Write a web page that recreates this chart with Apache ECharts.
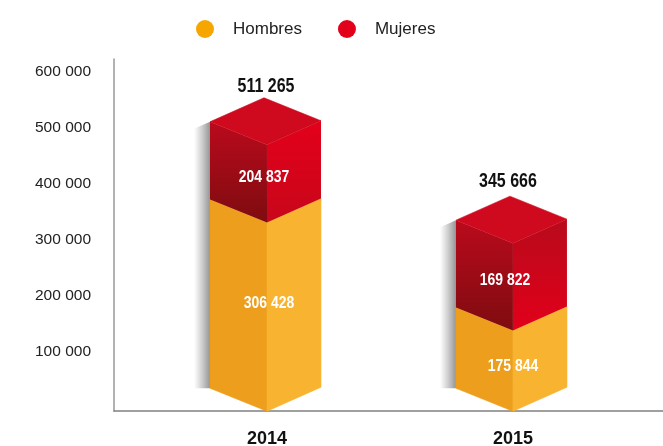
<!DOCTYPE html>
<html>
<head>
<meta charset="utf-8">
<style>
  html, body { margin: 0; padding: 0; background: #fff; }
  #chart { width: 663px; height: 446px; }
</style>
<script src="https://cdn.jsdelivr.net/npm/echarts@6/dist/echarts.min.js"></script>
</head>
<body>
<div id="chart"></div>
<script>
const categories = ['2014', '2015'];
const hombres = [306428, 175844];
const mujeres = [204837, 169822];
const totales = [511265, 345666];

// the boxes in the picture are not to scale with their printed numbers,
// so these are the levels at each box's left corner
const baseLevel = [34500, 34500];
const hombresLevel = [372000, 179000];
const mujeresLevel = [511000, 335000];

const yTicks = [100000, 200000, 300000, 400000, 500000, 600000];

const fontName = '"Liberation Sans", sans-serif';

function fmt(v) {
    return String(v).replace(/\B(?=(\d{3})+$)/g, ' ');
}

function vGrad(top, bottom) {
    return { type: 'linear', x: 0, y: 0, x2: 0, y2: 1,
        colorStops: [{ offset: 0, color: top }, { offset: 1, color: bottom }] };
}

function poly(points, fill, stroke) {
    return { type: 'polygon', shape: { points: points },
        style: { fill: fill, stroke: stroke || null, lineWidth: stroke ? 0.6 : 0 } };
}

// no narrow face installed, so squeeze bold text sideways to look like one
function label(text, x, y, size, color) {
    return { type: 'text', z2: 10, x: x, y: y, scaleX: 0.82, style: {
        text: text, x: 0, y: 0, fill: color, align: 'center', verticalAlign: 'middle',
        font: 'bold ' + size + 'px ' + fontName } };
}

// box outline, all in pixels relative to the front edge
const leftW = 57, rightW = 54, depth = 23;

function boxPoints(api, i, level) {
    const p = api.coord([i, level]);
    return {
        x: p[0],
        left: [p[0] - leftW, p[1]],
        right: [p[0] + rightW, p[1] - 1],
        front: [p[0], p[1] + depth],
        back: [p[0] - leftW + rightW, p[1] - depth - 1]
    };
}

function renderHombres(params, api) {
    const i = api.value(0);
    const lo = boxPoints(api, i, baseLevel[i]);
    const hi = boxPoints(api, i, hombresLevel[i]);
    const top = boxPoints(api, i, mujeresLevel[i]);
    const nudge = i === 0 ? [2, 9] : [0, 19];
    return { type: 'group', children: [
        // soft shadow left of the whole box
        poly([[top.left[0] - 16, top.left[1] + 7], top.left, lo.left, [lo.left[0] - 16, lo.left[1]]], {
            type: 'linear', x: 0, y: 0, x2: 1, y2: 0,
            colorStops: [{ offset: 0, color: 'rgba(150,150,150,0)' }, { offset: 1, color: 'rgba(130,130,130,0.85)' }]
        }),
        poly([hi.left, hi.front, lo.front, lo.left], '#ED9E1C', '#ED9E1C'),
        poly([hi.front, hi.right, lo.right, lo.front], '#F8B330', '#F8B330'),
        label(fmt(hombres[i]), lo.x + nudge[0], (lo.left[1] + hi.left[1]) / 2 + nudge[1], 17, '#fff')
    ] };
}

function renderMujeres(params, api) {
    const i = api.value(0);
    const lo = boxPoints(api, i, hombresLevel[i]);
    const hi = boxPoints(api, i, mujeresLevel[i]);
    const rightFill = i === 0 ? vGrad('#E3001B', '#C8071A') : vGrad('#B80A1C', '#E2001A');
    const nudgeX = i === 0 ? -3 : -8;
    const totalX = i === 0 ? -1 : -5;
    const totalY = i === 0 ? -11 : -15;
    return { type: 'group', children: [
        poly([hi.left, hi.front, lo.front, lo.left], vGrad('#BA0A1C', '#7E0C10')),
        poly([hi.front, hi.right, lo.right, lo.front], rightFill),
        poly([hi.back, hi.right, hi.front, hi.left], '#CF0A1E', '#CF0A1E'),
        label(fmt(mujeres[i]), lo.x + nudgeX, (lo.left[1] + hi.left[1]) / 2 + 17, 17, '#fff'),
        label(fmt(totales[i]), lo.x + totalX, hi.back[1] + totalY, 19.5, '#111')
    ] };
}

const myChart = echarts.init(document.getElementById('chart'), null, { renderer: 'canvas' });

const indexData = categories.map(function (c, i) { return [i]; });

myChart.setOption({
    animation: false,
    backgroundColor: '#fff',
    textStyle: { fontFamily: fontName },
    legend: {
        left: 191,
        top: 15,
        icon: 'circle',
        itemWidth: 18,
        itemHeight: 18,
        itemGap: 36,
        data: ['Hombres', 'Mujeres'],
        textStyle: { fontFamily: fontName, fontSize: 17, color: '#222', padding: [0, 0, 0, 14] }
    },
    grid: { left: 114, right: 0, top: 59, height: 352, outerBoundsMode: 'none' },
    xAxis: {
        type: 'value',
        min: -0.622,
        max: 1.61,
        splitLine: { show: false },
        axisTick: { show: false },
        axisLine: { show: true, onZero: false, lineStyle: { color: '#808080', width: 1.5 } },
        axisLabel: {
            customValues: [0, 1],
            formatter: function (v) { return categories[v]; },
            margin: 19,
            fontFamily: fontName,
            fontSize: 18,
            fontWeight: 'bold',
            color: '#111'
        }
    },
    yAxis: {
        type: 'value',
        min: -6260,
        max: 623250,
        splitLine: { show: false },
        axisTick: { show: false },
        axisLine: { show: true, onZero: false, lineStyle: { color: '#999', width: 1.5 } },
        axisLabel: {
            customValues: yTicks,
            formatter: fmt,
            margin: 23,
            padding: [2, 0, 0, 0],
            fontFamily: fontName,
            fontSize: 15.5,
            color: '#222'
        }
    },
    series: [{
        name: 'Hombres',
        type: 'custom',
        renderItem: renderHombres,
        clip: false,
        encode: { x: 0 },
        itemStyle: { color: '#F7A600' },
        data: indexData
    }, {
        name: 'Mujeres',
        type: 'custom',
        renderItem: renderMujeres,
        clip: false,
        encode: { x: 0 },
        itemStyle: { color: '#E2001A' },
        data: indexData
    }]
});
</script>
</body>
</html>
